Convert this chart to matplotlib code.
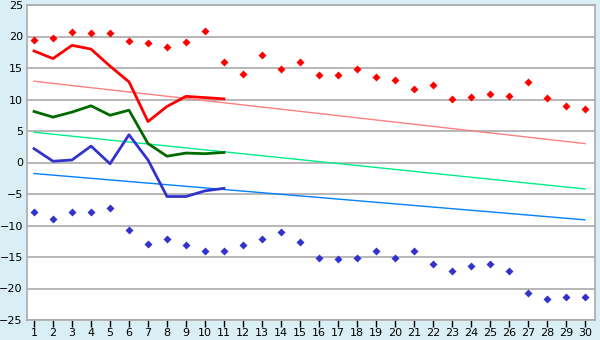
import numpy as np
import matplotlib
matplotlib.use("Agg")
import matplotlib.pyplot as plt

# days of the month
days = list(range(1, 31))

# scattered extremes (one per day)
max_pts = [19.5, 19.8, 20.7, 20.6, 20.6, 19.3, 19.0, 18.4, 19.2, 20.9,
           16.0, 14.1, 17.1, 14.9, 16.0, 13.9, 13.9, 14.9, 13.6, 13.1,
           11.7, 12.3, 10.1, 10.4, 10.9, 10.6, 12.8, 10.3, 9.0, 8.5]
min_pts = [-7.8, -8.9, -7.8, -7.8, -7.2, -10.7, -12.9, -12.1, -13.1, -14.0,
           -14.0, -13.1, -12.1, -11.0, -12.6, -15.1, -15.3, -15.1, -14.0, -15.1,
           -14.0, -16.1, -17.2, -16.4, -16.1, -17.2, -20.7, -21.6, -21.3, -21.4]

# measured lines for the first 11 days
line_days = list(range(1, 12))
red_line = [17.7, 16.5, 18.6, 18.0, 15.3, 12.8, 6.5, 8.9, 10.5, 10.3, 10.1]
green_line = [8.1, 7.2, 8.0, 9.0, 7.5, 8.3, 3.0, 1.0, 1.5, 1.4, 1.6]
blue_line = [2.2, 0.2, 0.4, 2.6, -0.2, 4.4, 0.4, -5.4, -5.4, -4.5, -4.1]

# normal (trend) lines, start and end values
trend_days = [1, 30]
red_trend = [12.9, 3.0]
green_trend = [4.8, -4.2]
blue_trend = [-1.75, -9.1]

bg = "#D9EFF5"
fig = plt.figure(figsize=(6, 3.4), dpi=100, facecolor=bg)
ax = fig.add_axes([27 / 600, 20 / 340, 568 / 600, 315 / 340])
ax.set_facecolor("white")

ax.plot(trend_days, red_trend, color="#FF8080", lw=1, zorder=2)
ax.plot(trend_days, green_trend, color="#00EE88", lw=1, zorder=2)
ax.plot(trend_days, blue_trend, color="#0080FF", lw=1, zorder=2)

ax.plot(line_days, red_line, color="#FF0000", lw=2, zorder=3)
ax.plot(line_days, green_line, color="#006A00", lw=2, zorder=3)
ax.plot(line_days, blue_line, color="#3333CC", lw=2, zorder=3)

ax.plot(days, max_pts, ls="none", marker="D", ms=4, color="#FF0000", mec="none", zorder=4)
ax.plot(days, min_pts, ls="none", marker="D", ms=4, color="#3333CC", mec="none", zorder=4)

ax.set_xlim(0.63, 30.53)
ax.set_ylim(-25, 25)
ax.set_xticks(days)
ax.set_yticks(np.arange(-25, 26, 5))
ax.grid(axis="y", color="#AAAAAA", lw=1.2)
ax.set_axisbelow(True)
for s in ax.spines.values():
    s.set_color("#AAAAAA")
    s.set_linewidth(1.2)
ax.tick_params(axis="x", length=5, width=1, color="black", pad=1, labelsize=8)
ax.tick_params(axis="y", length=0, pad=3, labelsize=8)

fig.savefig("out.png", dpi=100, facecolor=bg)
